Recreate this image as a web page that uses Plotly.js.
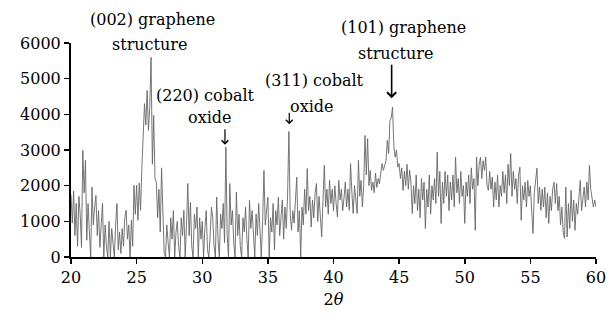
<!DOCTYPE html>
<html>
<head>
<meta charset="utf-8">
<script src="https://cdn.plot.ly/plotly-3.0.1.min.js"></script>
<style>html,body{margin:0;padding:0;background:#fff;}#chart{width:614px;height:318px;}</style>
</head>
<body>
<div id="chart"></div>
<script>
// 2θ grid: start and step of the scan
const twoThetaStart = 20;
const twoThetaStep = 0.1;

// Intensity, one row per degree (20.0 ... 59.9), then 60.0
const intensity = [
  1750, 950, 1850, 600, 1500, 300, 1700, 1200, 270, 2990,
  1800, 2710, 470, 1500, 700, 0, 1960, 900, 1400, 1730,
  600, 1300, 270, 1100, 1500, 0, 900, 300, 0, 1000,
  0, 800, 400, 0, 900, 1500, 200, 700, 100, 800,
  300, 1100, 1310, 500, 900, 0, 1030, 300, 2010, 1200,
  2010, 1030, 2070, 1310, 2500, 3360, 4300, 3700, 4670, 3550,
  4200, 5600, 2600, 3970, 2200, 2100, 1100, 1900, 700, 2500,
  1000, 100, 0, 900, 400, 0, 1100, 500, 1300, 0,
  700, 1000, 300, 0, 1100, 600, 1310, 0, 900, 2060,
  600, 1530, 300, 0, 1200, 800, 1400, 0, 1100, 500,
  1000, 0, 800, 1300, 200, 0, 600, 1400, 1100, 300,
  0, 1680, 500, 0, 1200, 800, 1500, 400, 3080, 600,
  0, 2060, 900, 1300, 400, 0, 1820, 600, 1200, 300,
  0, 1100, 700, 1400, 500, 0, 1590, 800, 1300, 400,
  0, 1200, 600, 1500, 800, 0, 1000, 2430, 900, 1400,
  1680, 0, 1100, 700, 1500, 200, 1300, 900, 1680, 600,
  1000, 1600, 500, 1400, 800, 1700, 3520, 1220, 750, 1300,
  950, 1600, 2240, 700, 1300, 0, 1400, 900, 1900, 1200,
  2480, 1300, 1700, 840, 1600, 1100, 1800, 2060, 1000, 1700,
  1200, 560, 1600, 2570, 1400, 1900, 1200, 2150, 1500, 1900,
  1300, 2000, 1500, 1120, 2150, 1600, 1900, 1300, 1650, 2100,
  1400, 1900, 1310, 2620, 1800, 1220, 2000, 1500, 1220, 2710,
  1700, 2150, 1400, 2000, 3410, 2300, 3320, 2000, 2430, 1870,
  2100, 1800, 2350, 1950, 2200, 2050, 2300, 2620, 2430, 2600,
  2700, 3270, 2900, 3830, 3900, 4200, 3080, 2800, 3000, 2520,
  2620, 2200, 2500, 1870, 2400, 2000, 2600, 1900, 2430, 2100,
  1220, 2000, 1500, 2300, 1300, 1900, 1100, 2200, 1600, 2100,
  800, 1900, 1400, 2300, 1200, 2000, 1600, 2200, 1500, 2940,
  1700, 2400, 940, 2100, 1500, 2400, 1700, 2300, 1300, 2100,
  1600, 2300, 1400, 2800, 1800, 2200, 1500, 2400, 1700, 2000,
  940, 2100, 1700, 2300, 1500, 2500, 1900, 2200, 750, 2800,
  2000, 2600, 2800, 2200, 2700, 2430, 2800, 2000, 1870, 2400,
  1900, 2240, 1400, 2100, 1600, 2300, 1400, 2000, 1700, 2400,
  1800, 2300, 1500, 2600, 2000, 2900, 1700, 2400, 1900, 2200,
  1500, 2300, 2520, 1030, 2000, 1600, 2100, 1400, 2150, 1700,
  2000, 1300, 660, 1800, 2100, 2490, 1500, 1960, 1310, 1900,
  1400, 1960, 1100, 1800, 940, 1700, 1300, 1900, 2100, 1500,
  2060, 1300, 1700, 900, 1400, 700, 520, 1960, 560, 1500,
  800, 1870, 1000, 1600, 750, 1500, 1200, 1800, 2150, 1300,
  1700, 1960, 1400, 2100, 1600, 2570, 1900, 1680, 1400, 1600,
  1400
];

// Axis ticks
const xTicks = [20, 25, 30, 35, 40, 45, 50, 55, 60];
const yTicks = [0, 1000, 2000, 3000, 4000, 5000, 6000];

// Peak labels
const peakLabels = [
  {line1: "(002) graphene", line2: "structure"},
  {line1: "(220) cobalt", line2: "oxide"},
  {line1: "(311) cobalt", line2: "oxide"},
  {line1: "(101) graphene", line2: "structure"}
];

const twoTheta = intensity.map((_, i) => +(twoThetaStart + i * twoThetaStep).toFixed(2));

const FONT = "DejaVu Serif";
const fs = 16;

function txt(text, x, yp) {
  return {text: text, x: x, y: yp, xref: "x", yref: "paper", showarrow: false,
          font: {family: FONT, size: fs, color: "#000"}, xanchor: "center", yanchor: "middle"};
}
function arr(x, y, len, w) {
  return {text: "", x: x, y: y, xref: "x", yref: "y", showarrow: true, ax: 0, ay: -len,
          arrowhead: 4, arrowsize: 1.1, arrowwidth: w, arrowcolor: "#000", standoff: 0};
}

const annotations = [
  txt(peakLabels[0].line1, 26.22, 1.111),
  txt(peakLabels[0].line2, 26.0, 0.994),
  txt(peakLabels[1].line1, 30.21, 0.756),
  txt(peakLabels[1].line2, 30.59, 0.653),
  arr(31.73, 3150, 17, 1.2),
  txt(peakLabels[2].line1, 38.59, 0.826),
  txt(peakLabels[2].line2, 38.29, 0.704),
  arr(36.63, 3720, 13, 1.2),
  txt(peakLabels[3].line1, 45.3, 1.073),
  txt(peakLabels[3].line2, 44.69, 0.952),
  arr(44.43, 4450, 35, 1.6)
];

const trace = {
  x: twoTheta, y: intensity, type: "scatter", mode: "lines",
  line: {color: "#666", width: 0.9}, hoverinfo: "skip"
};

const axisCommon = {
  showline: true, linecolor: "#000", linewidth: 2, mirror: false,
  ticks: "outside", ticklen: 5, tickwidth: 1.5, tickcolor: "#000",
  showgrid: false, zeroline: false,
  tickfont: {family: FONT, size: fs, color: "#000"}
};

const layout = {
  width: 614, height: 318,
  margin: {l: 71, r: 18, t: 43, b: 61},
  paper_bgcolor: "#fff", plot_bgcolor: "#fff",
  showlegend: false,
  font: {family: FONT, size: fs, color: "#000"},
  xaxis: Object.assign({}, axisCommon, {
    range: [20, 60], tickvals: xTicks, ticktext: xTicks.map(String),
    title: {text: "2<i>θ</i>", font: {family: FONT, size: fs, color: "#000"}, standoff: 8}
  }),
  yaxis: Object.assign({}, axisCommon, {
    range: [0, 6000], tickvals: yTicks, ticktext: yTicks.map(String)
  }),
  annotations: annotations
};

Plotly.newPlot("chart", [trace], layout, {staticPlot: true, displayModeBar: false});
</script>
</body>
</html>
